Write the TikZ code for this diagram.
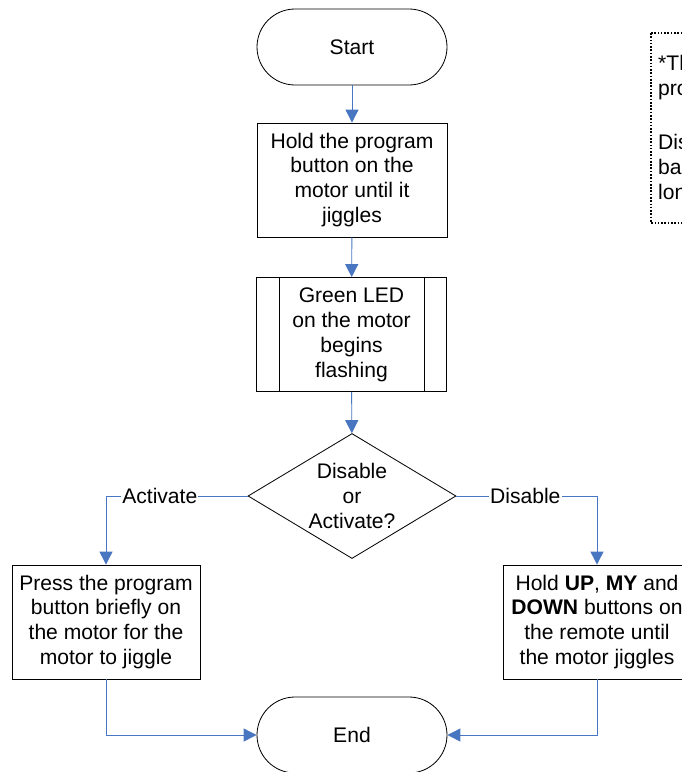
\documentclass[tikz,border=0pt]{standalone}
\usepackage{fontspec}
\setmainfont{Liberation Sans}
\usepackage{tikz}
\usetikzlibrary{arrows.meta, shapes.geometric}
\definecolor{flowblue}{RGB}{72,118,192}

\begin{document}
\begin{tikzpicture}[x=0.3mm, y=-0.3mm,
        every node/.style={font=\fontsize{18}{21.3}\selectfont, align=center},
        box/.style={draw, line width=0.7pt, minimum width=57mm, minimum height=34.2mm, inner sep=0pt},
        term/.style={draw, line width=0.7pt, rounded corners=11.4mm, minimum width=57mm, minimum height=22.8mm, inner sep=0pt},
        decide/.style={draw, diamond, line width=0.7pt, aspect=1.66, minimum width=62.4mm, minimum height=37.5mm, inner sep=0pt},
        flow/.style={draw=flowblue, line width=0.8pt, -{Triangle[length=3.9mm, width=3.9mm, fill=flowblue]}},
        tag/.style={fill=white, inner sep=1pt}]
        \useasboundingbox (0, 0) rectangle (682, 772);
        \clip (0, 0) rectangle (682, 772);
        \node[term] (start) at (352, 47) {Start};
        \node[box] (hold) at (352, 180) {Hold the program\\button on the\\motor until it\\jiggles};
        \node[box] (led) at (351.5, 334.5) {Green LED\\on the motor\\begins\\flashing};
        \draw[line width=0.7pt] ([xshift=6.9mm]led.north west) -- ([xshift=6.9mm]led.south west);
        \draw[line width=0.7pt] ([xshift=-6.9mm]led.north east) -- ([xshift=-6.9mm]led.south east);
        \node[decide] (choice) at (352, 496) {Disable\\or\\Activate?};
        \node[box, minimum width=56.4mm] (press) at (106, 622) {Press the program\\button briefly on\\the motor for the\\motor to jiggle};
        \node[box, minimum width=56.4mm] (remote) at (597, 622) {Hold \textbf{UP}, \textbf{MY} and\\\textbf{DOWN} buttons on\\the remote until\\the motor jiggles};
        \node[term] (end) at (352, 735) {End};
        \draw[line width=0.9pt, dash pattern=on 1.4pt off 1.4pt] (651, 33) rectangle (780, 223);
        \node[anchor=north west, align=left, inner sep=0pt] (note) at (658, 55) {*The motor must be in\\programming mode\\[8.6mm]Disable is only needed\\back to factory\\long press};
        \draw[flow] (start) -- (hold);
        \draw[flow] (hold) -- (led);
        \draw[flow] (led) -- (choice);
        \draw[flow] (choice.west) -| node[tag, pos=0.31] {Activate} (press.north);
        \draw[flow] (choice.east) -| node[tag, pos=0.245] {Disable} (remote.north);
        \draw[flow] (press.south) |- (end.west);
        \draw[flow] (remote.south) |- (end.east);
    \end{tikzpicture}
\end{document}
